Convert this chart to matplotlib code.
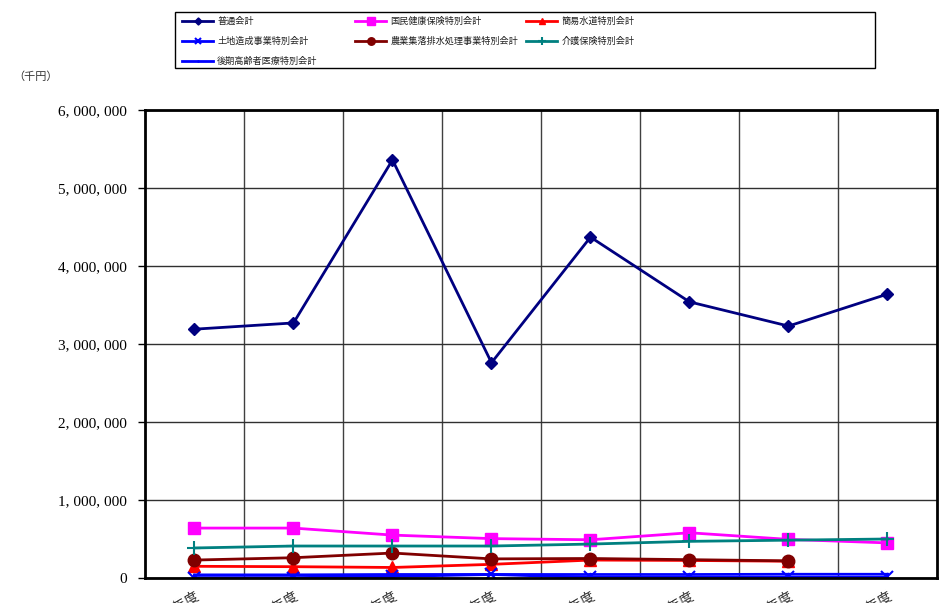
import matplotlib.pyplot as plt
from matplotlib.patches import Rectangle
from matplotlib.ticker import FuncFormatter, MultipleLocator

plt.rcParams['font.family'] = ['Noto Sans CJK JP', 'DejaVu Sans']

years = ['平成18年度', '平成19年度', '平成20年度', '平成21年度',
         '平成22年度', '平成23年度', '平成24年度', '平成25年度']

# 千円
general = [3190000, 3270000, 5360000, 2760000, 4370000, 3540000, 3230000, 3640000]
health_ins = [640000, 640000, 550000, 505000, 490000, 580000, 495000, 450000]
water = [150000, 145000, 135000, 175000, 230000, 225000, 215000]
land = [5000, 5000, 20000, 45000, 8000, 8000, 8000, 8000]
sewage = [230000, 260000, 320000, 245000, 250000, 235000, 220000]
care = [385000, 410000, 410000, 410000, 435000, 470000, 485000, 500000]
elderly = [40000, 40000, 45000, 45000, 45000, 45000, 48000, 48000]

series = [
    ('普通会計', general, '#000080', 'D', 6),
    ('国民健康保険特別会計', health_ins, '#ff00ff', 's', 9),
    ('簡易水道特別会計', water, '#ff0000', '^', 8),
    ('土地造成事業特別会計', land, '#0000ff', 'x', 8),
    ('農業集落排水処理事業特別会計', sewage, '#800000', 'o', 9),
    ('介護保険特別会計', care, '#008080', '+', 10),
    ('後期高齢者医療特別会計', elderly, '#0000ff', '.', 3),
]

W, H = 953, 603
fig = plt.figure(figsize=(W / 100, H / 100), dpi=100)
ax = fig.add_axes([145 / W, 1 - 578 / H, 792 / W, 468 / H])

handles = []
for name, vals, color, marker, size in series:
    ln, = ax.plot(range(len(vals)), vals, color=color, marker=marker, markersize=size,
                  linewidth=2, label=name, markeredgewidth=1.5 if marker in 'x+' else 1)
    handles.append(ln)

ax.set_xlim(-0.5, len(years) - 0.5)
ax.set_ylim(0, 6000000)
ax.yaxis.set_major_locator(MultipleLocator(1000000))
ax.yaxis.set_major_formatter(FuncFormatter(lambda v, p: f'{int(v):,}'.replace(',', ', ')))
for lbl in ax.get_yticklabels():
    lbl.set_family('Liberation Serif')
    lbl.set_fontsize(11)
ax.tick_params(axis='y', length=5, width=1, pad=8)

ax.set_xticks(range(len(years)))
ax.set_xticklabels(years, rotation=30, ha='right', va='top', fontsize=10,
                   rotation_mode='anchor', color='#333333')
ax.tick_params(axis='x', length=0, pad=8)
ax.set_xticks([i + 0.5 for i in range(len(years) - 1)], minor=True)
ax.grid(True, which='minor', axis='x', color='#404040', linewidth=1)
ax.grid(True, which='major', axis='y', color='#303030', linewidth=1)
ax.tick_params(which='minor', length=0)
for s in ax.spines.values():
    s.set_linewidth(2)

fig.text(13 / W, 1 - 77 / H, '（千円）', fontsize=8, va='center', color='#333333')

# legend: three columns laid out row by row inside one box
fig.patches.append(Rectangle((175 / W, 1 - 68 / H), 700 / W, 56 / H,
                             transform=fig.transFigure, fill=False,
                             edgecolor='black', linewidth=1))
col_x = [182, 355, 526]
for c in range(3):
    idx = list(range(c, len(handles), 3))
    fig.legend([handles[i] for i in idx], [series[i][0] for i in idx],
               loc='upper left', bbox_to_anchor=(col_x[c] / W, 1 - 17 / H),
               frameon=False, fontsize=6.6, markerscale=0.6, handlelength=3.4,
               handletextpad=0.45, labelspacing=1.2, borderpad=0, borderaxespad=0,
               labelcolor='#222222')

fig.savefig('out.png', dpi=100)
